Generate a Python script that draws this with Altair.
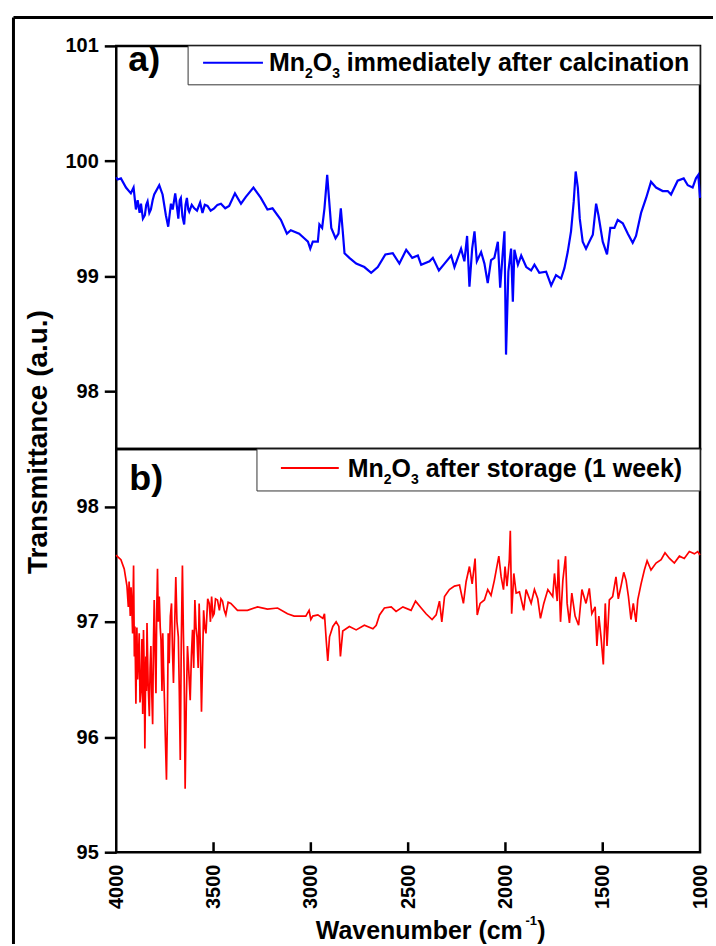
import altair as alt
import pandas as pd

FONT = "Liberation Sans"

# Panel a: Mn2O3 measured immediately after calcination
wn_a = [4000, 3993, 3976, 3950, 3925, 3911, 3899, 3890, 3880, 3873, 3863, 3853, 3846, 3839, 3830,
        3822, 3813, 3805, 3779, 3762, 3745, 3733, 3719, 3710, 3697, 3688, 3681, 3674, 3668, 3660,
        3651, 3644, 3637, 3630, 3625, 3612, 3599, 3585, 3569, 3557, 3545, 3531, 3515, 3497, 3480,
        3462, 3440, 3420, 3390, 3359, 3334, 3295, 3257, 3223, 3197, 3154, 3123, 3103, 3060, 3034,
        3015, 3003, 2990, 2964, 2956, 2942, 2930, 2916, 2907, 2895, 2873, 2858, 2846, 2836,
        2827, 2802, 2767, 2725, 2690, 2656, 2617, 2579, 2545, 2510, 2479, 2450, 2433, 2390,
        2373, 2342, 2313, 2279, 2262, 2228, 2211, 2197, 2185, 2171, 2159, 2147, 2125, 2108,
        2091, 2074, 2057, 2039, 2027, 2014, 2005, 1997, 1985, 1971, 1962, 1954, 1936, 1919,
        1893, 1868, 1851, 1826, 1791, 1765, 1740, 1714, 1697, 1680, 1663, 1649, 1639, 1628,
        1618, 1603, 1586, 1569, 1551, 1534, 1522, 1500, 1478, 1461, 1440, 1423, 1397, 1371,
        1346, 1329, 1303, 1277, 1252, 1226, 1192, 1166, 1149, 1115, 1084, 1063, 1038, 1021,
        1009, 1000]
t_a = [99.86, 99.84, 99.85, 99.77, 99.72, 99.77, 99.58, 99.66, 99.55, 99.63, 99.50, 99.53, 99.62, 99.65, 99.55,
       99.58, 99.66, 99.71, 99.79, 99.71, 99.53, 99.43, 99.63, 99.58, 99.72, 99.60, 99.50, 99.66, 99.68, 99.52,
       99.45, 99.62, 99.68, 99.58, 99.56, 99.62, 99.59, 99.57, 99.64, 99.55, 99.62, 99.61, 99.57, 99.59, 99.62,
       99.63, 99.59, 99.61, 99.72, 99.63, 99.69, 99.77, 99.68, 99.58, 99.59, 99.49, 99.37, 99.40, 99.37, 99.33,
       99.30, 99.24, 99.30, 99.30, 99.45, 99.42, 99.59, 99.88, 99.68, 99.42, 99.33, 99.37, 99.59, 99.39,
       99.20, 99.16, 99.11, 99.08, 99.03, 99.08, 99.19, 99.20, 99.11, 99.23, 99.16, 99.18, 99.10, 99.13,
       99.16, 99.05, 99.11, 99.18, 99.08, 99.24, 99.13, 99.35, 98.91, 99.24, 99.39, 99.13, 99.21, 99.11,
       98.94, 99.14, 99.16, 99.30, 98.90, 99.20, 99.39, 98.32, 99.04, 99.24, 98.78, 99.23, 99.10, 99.18,
       99.08, 99.05, 99.10, 99.03, 99.04, 98.92, 99.01, 98.98, 99.07, 99.21, 99.39, 99.65, 99.91, 99.77,
       99.50, 99.30, 99.24, 99.30, 99.36, 99.63, 99.53, 99.30, 99.19, 99.42, 99.42, 99.49, 99.46, 99.37,
       99.29, 99.35, 99.55, 99.68, 99.82, 99.77, 99.74, 99.74, 99.71, 99.83, 99.85, 99.79, 99.77, 99.85,
       99.88, 99.68]

# Panel b: Mn2O3 after one week of storage
wn_b = [4000, 3996, 3976, 3959, 3945, 3938, 3934, 3928, 3924, 3921, 3916, 3911, 3907, 3904,
        3899, 3894, 3890, 3887, 3882, 3878, 3873, 3868, 3864, 3860, 3856, 3853, 3848, 3845,
        3842, 3836, 3830, 3826, 3822, 3817, 3813, 3809, 3805, 3800, 3796, 3792, 3788, 3784,
        3779, 3774, 3770, 3765, 3761, 3757, 3752, 3748, 3742, 3737, 3733, 3728, 3722, 3716,
        3711, 3706, 3700, 3694, 3688, 3681, 3676, 3671, 3666, 3660, 3655, 3651, 3646, 3640,
        3634, 3628, 3620, 3614, 3608, 3602, 3596, 3590, 3585, 3579, 3574, 3568, 3562, 3556,
        3551, 3545, 3539, 3530, 3522, 3516, 3510, 3503, 3497, 3490, 3480, 3470, 3462, 3454,
        3445, 3437, 3425, 3411, 3377, 3326, 3274, 3223,
        3171, 3120, 3086, 3051, 3026, 3009, 3000, 2990, 2964, 2938, 2930, 2921, 2913, 2904,
        2887, 2870, 2856, 2848, 2836, 2802, 2767, 2725, 2681, 2664, 2647, 2622, 2587, 2562,
        2527, 2485, 2462, 2433, 2408, 2377, 2356, 2339, 2327, 2313, 2288, 2262, 2236, 2216,
        2202, 2185, 2171, 2156, 2145, 2130, 2108, 2091, 2074, 2057, 2034, 2022, 2010, 2002,
        1992, 1980, 1975, 1968, 1957, 1945, 1928, 1906, 1894, 1868, 1851, 1834, 1820, 1803,
        1782, 1757, 1748, 1734, 1728, 1717, 1705, 1691, 1683, 1671, 1659, 1642, 1624, 1607,
        1586, 1569, 1556, 1539, 1530, 1520, 1509, 1497, 1487, 1478, 1466, 1449, 1432, 1420,
        1406, 1392, 1380, 1368, 1355, 1343, 1329, 1320, 1303, 1286, 1272, 1252, 1226, 1200,
        1180, 1157, 1132, 1106, 1081, 1055, 1029, 1012, 1000]
t_b = [97.58, 97.57, 97.54, 97.46, 97.31, 97.13, 97.35, 97.05, 97.30, 97.19, 96.90, 97.49, 96.70, 96.96,
       96.29, 96.95, 96.50, 96.64, 96.90, 96.30, 96.41, 96.85, 96.20, 96.93, 96.55, 95.90, 96.70, 96.40,
       96.99, 96.45, 96.18, 96.60, 96.79, 96.35, 96.11, 96.80, 97.19, 96.70, 96.38, 97.10, 97.46, 97.00,
       97.22, 96.95, 96.84, 96.40, 96.90, 96.61, 96.30, 96.01, 95.63, 96.20, 96.90, 96.64, 97.05, 97.16,
       96.75, 96.47, 96.95, 97.39, 97.00, 96.87, 96.40, 95.80, 96.80, 97.49, 96.90, 96.53, 95.55, 96.30,
       96.79, 96.60, 96.32, 96.70, 96.93, 96.60, 97.19, 96.95, 96.87, 96.60, 97.16, 96.80, 96.22, 96.70,
       97.10, 96.95, 96.90, 97.20, 97.16, 97.00, 97.22, 97.05, 97.07, 97.20, 97.19, 97.10, 97.20, 97.18,
       97.10, 97.06, 97.17, 97.16, 97.10, 97.10, 97.13, 97.11,
       97.12, 97.07, 97.05, 97.05, 97.05, 97.10, 97.02, 97.05, 97.06, 97.03, 97.07, 96.84, 96.66, 96.87,
       96.96, 97.00, 96.96, 96.70, 96.92, 96.96, 96.93, 96.97, 96.94, 96.97, 97.06, 97.12, 97.13, 97.09,
       97.13, 97.10, 97.18, 97.12, 97.07, 97.02, 97.06, 97.18, 97.00, 97.22, 97.28, 97.31, 97.32, 97.16,
       97.35, 97.48, 97.33, 97.55, 97.06, 97.16, 97.19, 97.28, 97.23, 97.36, 97.57, 97.39, 97.28, 97.48,
       97.31, 97.54, 97.79, 97.07, 97.42, 97.25, 97.26, 97.10, 97.28, 97.16, 97.28, 97.20, 97.03, 97.16,
       97.28, 97.22, 97.42, 97.18, 97.54, 97.00, 97.36, 97.57, 97.16, 96.99, 97.25, 97.05, 96.97, 97.28,
       97.16, 97.29, 97.07, 97.13, 96.79, 97.05, 96.87, 96.63, 97.16, 96.79, 97.19, 97.22, 97.39, 97.20,
       97.31, 97.43, 97.36, 97.22, 97.02, 97.16, 97.00, 97.19, 97.33, 97.45, 97.53, 97.45, 97.51, 97.54,
       97.60, 97.55, 97.51, 97.57, 97.55, 97.61, 97.59, 97.61, 97.58]

x_ticks = [4000, 3500, 3000, 2500, 2000, 1500, 1000]
inner_ticks = [3500, 3000, 2500, 2000, 1500]
y_ticks_a = [98, 99, 100, 101]
y_ticks_b = [95, 96, 97, 98]

# legend labels as (text, is_subscript) runs
legend_a = [("Mn", False), ("2", True), ("O", False), ("3", True),
            (" immediately after calcination", False)]
legend_b = [("Mn", False), ("2", True), ("O", False), ("3", True),
            (" after storage (1 week)", False)]

W, H = 585, 404
FS, SUB_FS = 25, 14
# Arial/Liberation Sans Bold advance widths (em) for the formula glyphs
EM = {"Mn": 1.444, "O": 0.778, "2": 0.556, "3": 0.556, " ": 0.278}

df_a = pd.DataFrame({"wn": wn_a, "t": t_a})
df_b = pd.DataFrame({"wn": wn_b, "t": t_b})
one = pd.DataFrame({"k": [0]})
df_ticks = pd.DataFrame({"wn": inner_ticks})

x_scale = alt.Scale(domain=[1000, 4000], reverse=True, nice=False, zero=False)


def y_axis(values):
    return alt.Axis(values=values, title=None, domain=False, grid=False,
                    ticks=True, tickSize=12, tickWidth=2.5, tickColor="black",
                    labelFont=FONT, labelFontSize=20, labelFontWeight="bold",
                    labelColor="black", labelPadding=6, labelFlush=False,
                    labelOverlap=False, format="d")


def text_at(txt, x, y, size, **kw):
    return alt.Chart(one).mark_text(
        text=txt, font=FONT, fontSize=size, fontWeight="bold", color="black",
        align=kw.pop("align", "left"), baseline=kw.pop("baseline", "alphabetic"), **kw
    ).encode(x=alt.value(x), y=alt.value(y))


def formula_label(runs, x, y):
    """Bold label with small lowered subscript digits."""
    parts = []
    for txt, sub in runs:
        size = SUB_FS if sub else FS
        if txt.startswith(" "):
            x += EM[" "] * size
            txt = txt.lstrip()
        parts.append(text_at(txt, x, y + (7 if sub else 0), size))
        x += EM.get(txt, 0) * size
    return parts


# ---- panel a ----
line_a = alt.Chart(df_a).mark_line(color="#0000FF", strokeWidth=2.2).encode(
    x=alt.X("wn:Q", scale=x_scale, axis=None),
    y=alt.Y("t:Q", scale=alt.Scale(domain=[97.5, 101], nice=False, zero=False),
            axis=y_axis(y_ticks_a)),
)
box_a = alt.Chart(one).mark_rect(fill="white", stroke="#333333", strokeWidth=1).encode(
    x=alt.value(72), x2=alt.value(585), y=alt.value(0), y2=alt.value(39))
key_a = alt.Chart(one).mark_rule(color="#0000FF", strokeWidth=2).encode(
    x=alt.value(87), x2=alt.value(147), y=alt.value(17))
frame_top = alt.Chart(one).mark_rule(color="black", strokeWidth=3).encode(
    x=alt.value(-103), x2=alt.value(598), y=alt.value(-28.5))
frame_left = alt.Chart(one).mark_rule(color="black", strokeWidth=3).encode(
    x=alt.value(-103), y=alt.value(-28.5), y2=alt.value(900))

panel_a = alt.layer(
    line_a, box_a, key_a,
    *formula_label(legend_a, 153, 25),
    text_at("a)", 12, 25, 36),
    text_at("Transmittance (a.u.)", -77, 397, 28, angle=270, align="center", baseline="middle"),
    frame_top, frame_left,
).properties(width=W, height=H)

# ---- panel b ----
line_b = alt.Chart(df_b).mark_line(color="#FF0000", strokeWidth=1.7).encode(
    x=alt.X("wn:Q", scale=x_scale,
            axis=alt.Axis(values=x_ticks, title=None, domain=False, grid=False,
                          ticks=False, tickSize=0, labelAngle=270, labelAlign="right",
                          labelBaseline="middle", labelFont=FONT, labelFontSize=20,
                          labelFontWeight="bold", labelColor="black", labelPadding=12,
                          labelFlush=False, labelOverlap=False, format="d")),
    y=alt.Y("t:Q", scale=alt.Scale(domain=[95, 98.5], nice=False, zero=False),
            axis=y_axis(y_ticks_b)),
)
ticks_b = alt.Chart(df_ticks).mark_rule(color="black", strokeWidth=2.5).encode(
    x=alt.X("wn:Q", scale=x_scale), y=alt.value(H), y2=alt.value(H - 10))
box_b = alt.Chart(one).mark_rect(fill="white", stroke="#333333", strokeWidth=1).encode(
    x=alt.value(141), x2=alt.value(585), y=alt.value(0), y2=alt.value(42))
key_b = alt.Chart(one).mark_rule(color="#FF0000", strokeWidth=2).encode(
    x=alt.value(165), x2=alt.value(223), y=alt.value(19))

panel_b = alt.layer(
    line_b, ticks_b, box_b, key_b,
    *formula_label(legend_b, 232, 28),
    text_at("b)", 13, 41, 36),
    text_at("Wavenumber (cm", 200, 491, 25),
    text_at("-1", 410, 477, 13),
    text_at(")", 422, 491, 25),
).properties(width=W, height=H)

chart = alt.vconcat(panel_a, panel_b, spacing=0, bounds="flush").properties(
    padding={"left": 10.5, "top": 13, "right": 0, "bottom": 0},
    background="white",
).configure_view(stroke="black", strokeWidth=2.5)

chart.save("out.html", embed_options={"renderer": "svg", "actions": False})
